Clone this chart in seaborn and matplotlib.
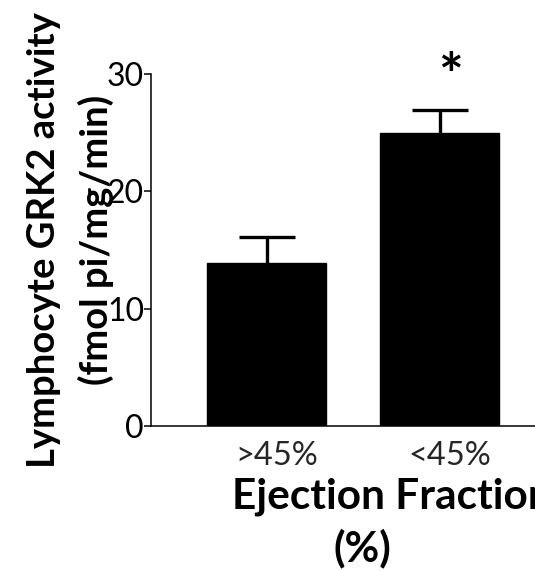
import matplotlib
matplotlib.use("Agg")
import matplotlib.pyplot as plt
import seaborn as sns
import pandas as pd
import matplotlib.transforms as mtransforms

categories = [">45%", "<45%"]
values = [13.9, 25.0]
errors = [2.2, 1.9]
yticks = [0, 10, 20, 30]

sns.set_theme(style="white")
plt.rcParams['font.family'] = ['Lato', 'DejaVu Sans']

fig = plt.figure(figsize=(5.35, 5.71), dpi=100)
ax = fig.add_axes([151/535, 145/571, 1 - 151/535, (497-145)/571])

df = pd.DataFrame({"cat": categories, "val": values})
sns.barplot(data=df, x="cat", y="val", color="black", saturation=1, width=0.686,
            errorbar=None, ax=ax)
for p in ax.patches:
    p.set_edgecolor("black")
eb = ax.errorbar(range(len(values)), values, yerr=[[0]*len(values), errors], fmt="none",
                 ecolor="black", elinewidth=2.4, capsize=20.5, capthick=2.4, zorder=5)
eb[1][0].set_visible(False)

ax.set_xlim(-0.666, 1.548)
ax.set_ylim(0, 30)
ax.set_yticks(yticks)
ax.set_yticklabels([str(t) for t in yticks], fontsize=23)
ax.tick_params(axis="y", direction="out", length=5, width=1.1, pad=0, left=True, colors="black")
ax.tick_params(axis="x", length=0, pad=11)
ax.set_xticks(range(len(categories)))
ax.set_xticklabels(categories, fontsize=23.5)
for lbl in ax.get_xticklabels():
    lbl.set_transform(lbl.get_transform() + mtransforms.ScaledTranslation(10/100, 0, fig.dpi_scale_trans))
ax.set_xlabel("")
ax.set_ylabel("")
for s in ["top", "right"]:
    ax.spines[s].set_visible(False)
for s in ["left", "bottom"]:
    ax.spines[s].set_color("black")
    ax.spines[s].set_linewidth(1.1)

ax.text(1.063, 29.6, "*", ha="center", va="center", fontsize=42, fontweight="bold", color="black")

fig.text(44/535, 1 - 240/571, "Lymphocyte GRK2 activity", rotation=90, ha="center", va="center",
         fontsize=27.5, fontweight="bold", color="black")
fig.text(96/535, 1 - 240/571, "(fmol pi/mg/min)", rotation=90, ha="center", va="center",
         fontsize=27.5, fontweight="bold", color="black")

fig.text(232/535, 1 - 497/571, "Ejection Fraction", ha="left", va="center",
         fontsize=30.5, fontweight="bold", color="black")
fig.text(362/535, 1 - 548/571, "(%)", ha="center", va="center",
         fontsize=30.5, fontweight="bold", color="black")

fig.savefig("out.png", dpi=100)
